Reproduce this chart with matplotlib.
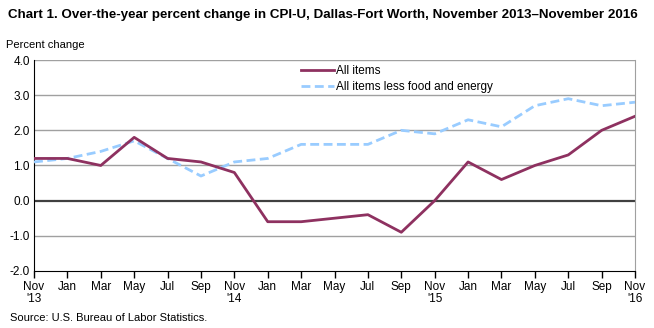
import matplotlib
matplotlib.use('Agg')
import matplotlib.pyplot as plt
import numpy as np

plt.rcParams['font.family'] = ['Liberation Sans', 'DejaVu Sans']

# bimonthly observations, Nov 2013 - Nov 2016
months = ['Nov\n\'13', 'Jan', 'Mar', 'May', 'Jul', 'Sep',
          'Nov\n\'14', 'Jan', 'Mar', 'May', 'Jul', 'Sep',
          'Nov\n\'15', 'Jan', 'Mar', 'May', 'Jul', 'Sep', 'Nov\n\'16']
all_items = [1.2, 1.2, 1.0, 1.8, 1.2, 1.1, 0.8, -0.6, -0.6, -0.5, -0.4, -0.9,
             0.0, 1.1, 0.6, 1.0, 1.3, 2.0, 2.4]
core = [1.1, 1.2, 1.4, 1.7, 1.2, 0.7, 1.1, 1.2, 1.6, 1.6, 1.6, 2.0,
        1.9, 2.3, 2.1, 2.7, 2.9, 2.7, 2.8]

x = np.arange(len(months))

fig = plt.figure(figsize=(6.54, 3.28), dpi=100)
ax = fig.add_axes([0.052, 0.174, 0.919, 0.643])

for yv in [-1, 1, 2, 3, 4]:
    ax.axhline(yv, color='#a0a0a0', lw=1, zorder=1)
ax.axhline(0, color='#404040', lw=1.6, zorder=2)

ax.plot(x, all_items, color='#8e3160', lw=2.0, label='All items', zorder=4)
ax.plot(x, core, color='#99ccff', lw=2.0, ls=(0, (3.2, 1.6)),
        label='All items less food and energy', zorder=3)

ax.set_xlim(0, len(months) - 1)
ax.set_ylim(-2, 4)
ax.set_yticks(np.arange(-2, 4.1, 1))
ax.set_yticklabels([f'{v:.1f}' for v in np.arange(-2, 4.1, 1)], fontsize=8.5)
ax.set_xticks(x)
ax.set_xticklabels(months, fontsize=8.5, linespacing=1.05)
ax.tick_params(axis='x', direction='out', length=5, width=1, color='black', pad=2)
ax.tick_params(axis='y', length=0, pad=3)

ax.spines['left'].set_color('black')
ax.spines['bottom'].set_color('black')
ax.spines['right'].set_color('#a0a0a0')
ax.spines['top'].set_visible(False)

ax.legend(loc='upper left', bbox_to_anchor=(0.437, 1.0), frameon=False,
          fontsize=8.5, handlelength=2.8, handletextpad=0.1, labelspacing=0.35,
          borderaxespad=0)

fig.text(0.012, 0.955, 'Chart 1. Over-the-year percent change in CPI-U, Dallas-Fort Worth, November 2013\u2013November 2016',
         fontsize=9.6, fontweight='bold', va='center')
fig.text(0.009, 0.862, 'Percent change', fontsize=8, va='center')
fig.text(0.015, 0.03, 'Source: U.S. Bureau of Labor Statistics.', fontsize=8, va='center')

fig.savefig('out.png', dpi=100)
